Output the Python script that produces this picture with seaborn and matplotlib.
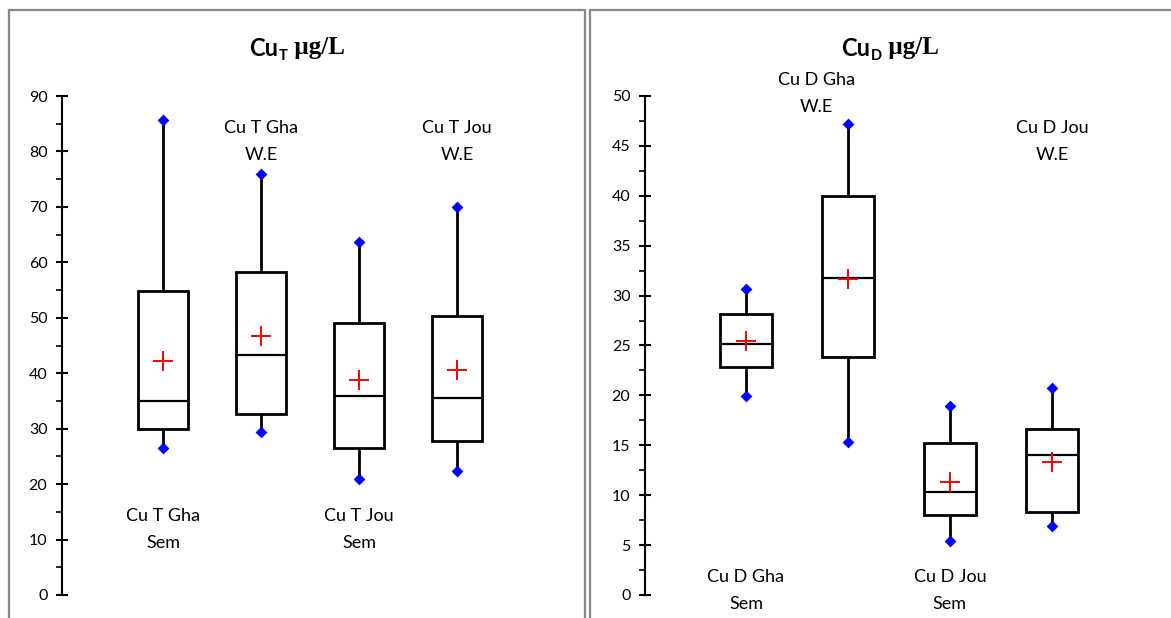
import numpy as np
import pandas as pd
import matplotlib
matplotlib.use("Agg")
import matplotlib.pyplot as plt
from matplotlib.patches import Rectangle
from matplotlib.ticker import MultipleLocator
import seaborn as sns

# Cu total (ug/L) - five-number summaries + means
t_sites = ["Cu T Gha Sem", "Cu T Gha W.E", "Cu T Jou Sem", "Cu T Jou W.E"]
t_min = [26.6, 29.4, 21.0, 22.4]
t_q1 = [29.9, 32.6, 26.6, 27.7]
t_med = [35.0, 43.3, 35.9, 35.5]
t_q3 = [54.8, 58.2, 49.1, 50.3]
t_max = [85.7, 75.9, 63.6, 69.9]
t_mean = [42.2, 46.8, 38.8, 40.6]

# Cu dissolved (ug/L)
d_sites = ["Cu D Gha Sem", "Cu D Gha W.E", "Cu D Jou Sem", "Cu D Jou W.E"]
d_min = [19.9, 15.3, 5.4, 6.9]
d_q1 = [22.8, 23.8, 8.0, 8.3]
d_med = [25.15, 31.8, 10.3, 14.0]
d_q3 = [28.2, 39.95, 15.2, 16.6]
d_max = [30.7, 47.2, 18.9, 20.7]
d_mean = [25.5, 31.7, 11.3, 13.3]

sns.set_style("white")
plt.rcParams["font.family"] = ["Lato", "DejaVu Sans"]
plt.rcParams["text.color"] = "black"
plt.rcParams["ytick.color"] = "black"
plt.rcParams["ytick.labelcolor"] = "black"

W, H = 1171, 618
fig = plt.figure(figsize=(W / 100, H / 100), dpi=100)


def px_axes(x0, x1, ytop, ybot):
    return fig.add_axes([x0 / W, 1 - ybot / H, (x1 - x0) / W, (ybot - ytop) / H])


def long_form(sites, mn, q1, md, q3, mx):
    rows = []
    for i, s in enumerate(sites):
        for v in (mn[i], q1[i], md[i], q3[i], mx[i]):
            rows.append({"site": s, "value": v})
    return pd.DataFrame(rows)


def draw_panel(ax, sites, mn, q1, md, q3, mx, mean):
    df = long_form(sites, mn, q1, md, q3, mx)
    sns.boxplot(data=df, x="site", y="value", order=sites, whis=np.inf,
                width=0.51, color="white", linecolor="black", linewidth=2.0,
                showcaps=False, medianprops={"linewidth": 1.6},
                ax=ax)
    ends = pd.DataFrame({"site": sites * 2, "value": list(mn) + list(mx)})
    sns.stripplot(data=ends, x="site", y="value", order=sites, jitter=False,
                  marker="D", color="blue", size=6, linewidth=0, zorder=5, ax=ax)
    means = pd.DataFrame({"site": sites, "value": mean})
    sns.stripplot(data=means, x="site", y="value", order=sites, jitter=False,
                  marker="+", color="red", edgecolor="red", size=15,
                  linewidth=1.4, zorder=6, ax=ax)
    ax.set_xlabel("")
    ax.set_ylabel("")
    ax.set_xticks([])
    for s in ("top", "right", "bottom"):
        ax.spines[s].set_visible(False)
    ax.spines["left"].set_linewidth(1.5)
    ax.spines["left"].set_color("black")
    ax.tick_params(axis="y", which="major", direction="inout", length=9,
                   width=1.5, labelsize=11.5, pad=6, left=True)
    ax.tick_params(axis="y", which="minor", direction="out", length=4,
                   width=1.2, left=True)


# left panel: total copper
ax1 = px_axes(62, 555, 96, 595)
draw_panel(ax1, t_sites, t_min, t_q1, t_med, t_q3, t_max, t_mean)
ax1.set_ylim(0, 90)
ax1.set_xlim(-1.031, 4.0)
ax1.yaxis.set_major_locator(MultipleLocator(10))
ax1.yaxis.set_minor_locator(MultipleLocator(5))

lab = dict(ha="center", va="center", fontsize=13, linespacing=1.85)
ax1.text(0, 11.8, "Cu T Gha\nSem", **lab)
ax1.text(1, 81.8, "Cu T Gha\nW.E", **lab)
ax1.text(2, 11.8, "Cu T Jou\nSem", **lab)
ax1.text(3, 81.8, "Cu T Jou\nW.E", **lab)

# right panel: dissolved copper
ax2 = px_axes(645, 1160, 96, 595)
draw_panel(ax2, d_sites, d_min, d_q1, d_med, d_q3, d_max, d_mean)
ax2.set_ylim(0, 50)
ax2.set_xlim(-0.99, 4.06)
ax2.yaxis.set_major_locator(MultipleLocator(5))
ax2.yaxis.set_minor_locator(MultipleLocator(2.5))

ax2.text(0, 0.45, "Cu D Gha\nSem", **lab)
ax2.text(0.69, 50.25, "Cu D Gha\nW.E", **lab)
ax2.text(2, 0.45, "Cu D Jou\nSem", **lab)
ax2.text(3, 45.4, "Cu D Jou\nW.E", **lab)

# panel frames
for x0, x1 in ((9, 585), (590, 1180)):
    fig.add_artist(Rectangle((x0 / W, -0.1), (x1 - x0) / W, 1.1 - 10 / H,
                             transform=fig.transFigure, fill=False,
                             edgecolor="#888888", linewidth=1.6))


def title(x_px, sub):
    base = 1 - 56 / H
    t1 = fig.text(x_px / W, base, "Cu", ha="left", va="baseline",
                  fontsize=17, fontweight="bold")
    t2 = ax1.annotate(sub, xy=(1, 0), xycoords=t1, xytext=(0.8, 0.2),
                      textcoords="offset points", ha="left", va="baseline",
                      fontsize=10.5, fontweight="bold")
    ax1.annotate(" \u00b5g/L", xy=(1, 0), xycoords=t2, xytext=(0, 6),
                 textcoords="offset points", ha="left", va="baseline",
                 fontsize=18, fontweight="bold", family="Liberation Serif")


title(249, "T")
title(841, "D")

fig.savefig("out.png", dpi=100)
